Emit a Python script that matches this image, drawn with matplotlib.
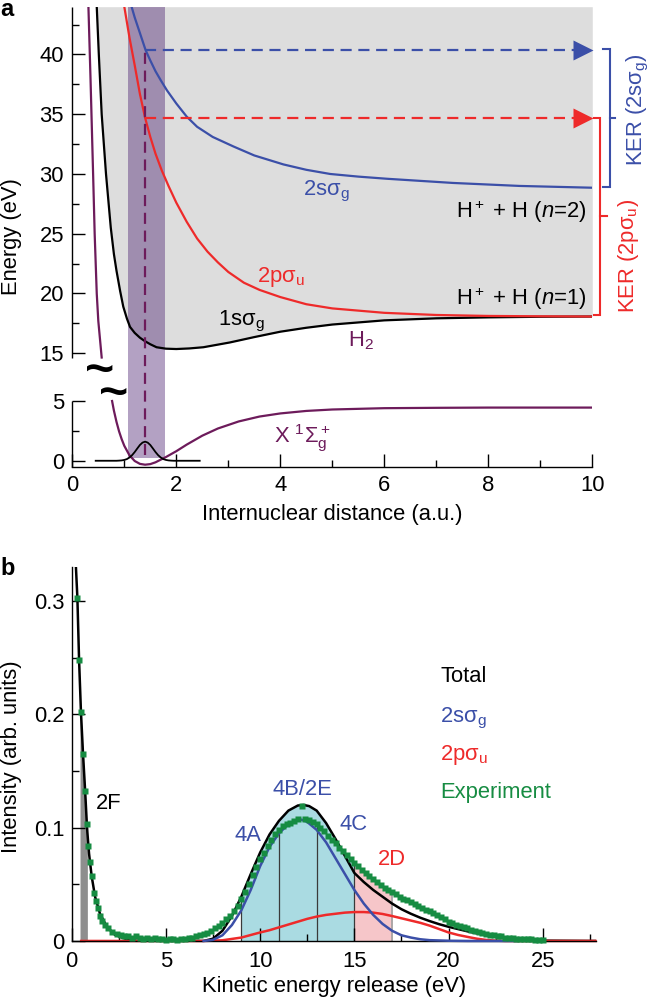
import numpy as np
import matplotlib
matplotlib.use("Agg")
import matplotlib.pyplot as plt

# -------------------------
# Fonts / style
# -------------------------
plt.rcParams["font.family"] = ["Liberation Sans", "DejaVu Sans"]
plt.rcParams["mathtext.fontset"] = "custom"
plt.rcParams["mathtext.rm"] = "Liberation Sans"
plt.rcParams["mathtext.it"] = "Liberation Sans:italic"
plt.rcParams["mathtext.bf"] = "Liberation Sans:bold"
plt.rcParams["font.size"] = 15.8

BLUE = "#3b4fa8"
RED = "#ee2a2a"
PURPLE = "#6d1b5b"
GREEN = "#168c42"

# -------------------------
# Panel a data (energy in eV vs internuclear distance in a.u.)
# -------------------------
# H2 ground state X 1Sigma_g+ (upper piece above the axis break, lower piece below)
h2_up_x = [0.31, 0.35, 0.40, 0.43, 0.47, 0.50, 0.565]
h2_up_y = [44.0, 38.0, 30.0, 25.0, 20.0, 17.7, 14.1]
h2_lo_x = [0.765, 0.8, 0.85, 0.9, 0.95, 1.0, 1.1, 1.2, 1.3, 1.4, 1.5, 1.6, 1.8, 2.0,
           2.2, 2.5, 2.8, 3.2, 3.6, 4.0, 4.5, 5.0, 6.0, 7.0, 8.0, 10.0]
h2_lo_y = [5.0, 4.2, 3.25, 2.45, 1.8, 1.25, 0.45, -0.02, -0.26, -0.33, -0.28, -0.13, 0.31, 0.8,
           1.35, 2.1, 2.7, 3.29, 3.7, 3.96, 4.17, 4.29, 4.4, 4.43, 4.45, 4.45]

# H2+ 1s sigma_g
s1_x = [0.47, 0.51, 0.565, 0.648, 0.74, 0.8, 0.85, 0.92, 0.98, 1.05, 1.11, 1.2, 1.3, 1.4, 1.5,
        1.62, 1.8, 2.0, 2.25, 2.52, 3.03, 3.5, 4.0, 4.5, 5.0, 6.0, 7.0, 8.0, 9.0, 10.0]
s1_y = [44.0, 40.0, 35.0, 30.0, 25.5, 23.3, 21.9, 20.2, 18.9, 17.9, 17.2, 16.7, 16.3, 16.0, 15.75,
        15.5, 15.38, 15.35, 15.4, 15.5, 15.9, 16.35, 16.8, 17.13, 17.4, 17.75, 17.92, 18.0, 18.05, 18.07]

# H2+ 2p sigma_u
p_x = [1.0, 1.1, 1.2, 1.3, 1.4, 1.5, 1.6, 1.72, 1.85, 2.0, 2.2, 2.4, 2.6, 2.8, 3.0, 3.3, 3.6,
       4.0, 4.5, 5.0, 6.0, 7.0, 8.0, 9.0, 10.0]
p_y = [44.0, 41.4, 39.1, 36.7, 34.7, 33.1, 31.7, 30.3, 29.0, 27.6, 26.0, 24.6, 23.5, 22.6, 21.8,
       20.9, 20.3, 19.7, 19.1, 18.75, 18.38, 18.2, 18.12, 18.09, 18.07]

# H2+ 2s sigma_g
s2_x = [1.14, 1.2, 1.3, 1.41, 1.5, 1.6, 1.7, 1.82, 2.0, 2.2, 2.4, 2.7, 3.1, 3.5, 4.06, 4.5,
        4.96, 5.5, 6.05, 7.32, 8.6, 10.0]
s2_y = [44.0, 43.1, 41.8, 40.36, 39.5, 38.6, 37.85, 37.0, 35.9, 34.8, 33.95, 33.1, 32.3, 31.55,
        30.8, 30.35, 30.0, 29.78, 29.6, 29.25, 29.0, 28.85]

# ground vibrational wave function
wf_x = [0.45, 0.85, 0.9, 0.95, 1.0, 1.05, 1.1, 1.15, 1.2, 1.25, 1.3, 1.35, 1.4,
        1.45, 1.5, 1.55, 1.6, 1.65, 1.7, 1.75, 1.8, 1.85, 1.9, 1.95, 2.45]
wf_y = [0.0, 0.0, 0.012, 0.03, 0.07, 0.14, 0.276, 0.47, 0.73, 1.03, 1.32, 1.52, 1.6,
        1.52, 1.32, 1.03, 0.73, 0.47, 0.276, 0.14, 0.07, 0.03, 0.012, 0.0, 0.0]

fc_region = [1.08, 1.78]     # Franck-Condon band
r0 = 1.4                     # equilibrium distance
e_2s = 40.36                 # vertical energies
e_2p = 34.65

# -------------------------
# Panel b data (intensity vs KER)
# -------------------------
tot_x = [0.18, 0.30, 0.39, 0.44, 0.49, 0.60, 0.71, 0.80, 0.83, 0.92, 1.06, 1.24, 1.50, 1.86,
         2.30, 2.92, 3.5, 7.0, 7.5, 8.0, 8.5, 9.0, 9.5, 10.0, 10.5, 11.0, 11.5, 12.0, 12.3, 12.6,
         13.0, 13.5, 14.0, 14.5, 15.0, 15.5, 16.0, 16.5, 17.0, 17.5, 18.0, 18.5, 19.0, 19.5,
         20.0, 21.0, 22.0, 23.0, 24.0, 25.0, 27.8]
tot_y = [0.345, 0.303, 0.248, 0.225, 0.202, 0.165, 0.133, 0.104, 0.096, 0.077, 0.057, 0.039,
         0.024, 0.0126, 0.0053, 0.0015, 0.0, 0.0, 0.002, 0.009, 0.022, 0.039, 0.059, 0.078,
         0.094, 0.106, 0.115, 0.1195, 0.120, 0.119, 0.115, 0.104, 0.090, 0.075, 0.060, 0.052,
         0.045, 0.039, 0.033, 0.028, 0.024, 0.0205, 0.0175, 0.0148, 0.0125, 0.0085, 0.005,
         0.0025, 0.001, 0.0003, 0.0]

sg_x = [7.0, 7.5, 8.0, 8.5, 9.0, 9.5, 10.0, 10.5, 11.0, 11.5, 12.0, 12.2, 12.5, 13.0, 13.5,
        14.0, 14.5, 15.0, 15.5, 16.0, 16.5, 17.0, 17.5, 18.0, 18.5, 19.0, 20.0, 21.0, 23.6]
sg_y = [0.0, 0.001, 0.005, 0.014, 0.027, 0.045, 0.066, 0.083, 0.095, 0.103, 0.1065, 0.107,
        0.105, 0.098, 0.087, 0.073, 0.059, 0.045, 0.033, 0.023, 0.015, 0.009, 0.005, 0.003,
        0.0015, 0.0007, 0.0002, 0.0, 0.0]

pu_x = [0.5, 7.0, 8.0, 9.0, 10.0, 10.5, 11.0, 11.5, 12.0, 12.5, 13.0, 13.5, 14.0, 14.5, 15.0,
        15.5, 16.0, 16.5, 17.0, 17.5, 18.0, 18.5, 19.0, 19.5, 20.0, 20.5, 21.0, 21.5, 22.0,
        22.5, 23.0, 27.8]
pu_y = [0.0, 0.0, 0.0006, 0.003, 0.0075, 0.0095, 0.012, 0.0145, 0.017, 0.0195, 0.0215, 0.023,
        0.024, 0.025, 0.0255, 0.0255, 0.025, 0.0238, 0.022, 0.020, 0.018, 0.016, 0.0135,
        0.0105, 0.0075, 0.0053, 0.0036, 0.002, 0.0009, 0.0003, 0.0, 0.0]

exp_x = [0.30, 0.39, 0.49, 0.60, 0.69, 0.80, 0.88, 0.97, 1.09, 1.20, 1.29, 1.38, 1.50, 1.63,
         1.77, 1.95, 2.12, 2.39,
         2.6, 2.8, 3.0, 3.2, 3.4, 3.6, 3.8, 4.0, 4.2, 4.4,
         4.6, 4.8, 5.0, 5.2, 5.4, 5.6, 5.8, 6.0, 6.2, 6.4,
         6.6, 6.8, 7.0, 7.2, 7.4, 7.6, 7.8, 8.0, 8.2, 8.4,
         8.6, 8.8, 9.0, 9.2, 9.4, 9.6, 9.8, 10.0, 10.2, 10.4,
         10.6, 10.8, 11.0, 11.2, 11.4, 11.6, 11.8, 12.0, 12.2, 12.4,
         12.6, 12.8, 13.0, 13.2, 13.4, 13.6, 13.8, 14.0, 14.2, 14.4,
         14.6, 14.8, 15.0, 15.2, 15.4, 15.6, 15.8, 16.0, 16.2, 16.4,
         16.6, 16.8, 17.0, 17.2, 17.4, 17.6, 17.8, 18.0, 18.2, 18.4,
         18.6, 18.8, 19.0, 19.2, 19.4, 19.6, 19.8, 20.0, 20.2, 20.4,
         20.6, 20.8, 21.0, 21.2, 21.4, 21.6, 21.8, 22.0, 22.2, 22.4,
         22.6, 22.8, 23.0, 23.2, 23.4, 23.6, 23.8, 24.0, 24.2, 24.4,
         24.6, 24.8, 25.0]
exp_y = [0.303, 0.248, 0.202, 0.165, 0.132, 0.103, 0.084, 0.070, 0.057, 0.042, 0.035, 0.029,
         0.022, 0.018, 0.014, 0.011, 0.008, 0.006,
         0.005, 0.004, 0.004, 0.003, 0.004, 0.003, 0.002, 0.003, 0.002, 0.003,
         0.002, 0.002, 0.001, 0.002, 0.002, 0.001, 0.002, 0.002, 0.003, 0.003,
         0.004, 0.005, 0.006, 0.007, 0.009, 0.011, 0.013, 0.016, 0.019, 0.022,
         0.026, 0.031, 0.037, 0.043, 0.050, 0.058, 0.065, 0.072, 0.078, 0.084,
         0.089, 0.094, 0.098, 0.101, 0.103, 0.104, 0.106, 0.108, 0.119, 0.108,
         0.107, 0.105, 0.103, 0.100, 0.097, 0.093, 0.089, 0.086, 0.082, 0.079,
         0.076, 0.072, 0.069, 0.066, 0.063, 0.060, 0.057, 0.055, 0.052, 0.049,
         0.047, 0.045, 0.043, 0.041, 0.039, 0.037, 0.036, 0.034, 0.033, 0.031,
         0.029, 0.027, 0.026, 0.025, 0.023, 0.021, 0.019, 0.017, 0.016, 0.014,
         0.013, 0.012, 0.011, 0.010, 0.009, 0.008, 0.007, 0.006, 0.005, 0.005,
         0.004, 0.004, 0.003, 0.003, 0.003, 0.002, 0.002, 0.002, 0.002, 0.002,
         0.001, 0.001, 0.001]

band_2f = [0.44, 0.83]
band_blue = [9.0, 15.0]
band_pink = [15.0, 17.0]
cut_lines = [9.0, 11.0, 13.0, 15.0]
cut_end = 17.0

# -------------------------
# Figure
# -------------------------
fig = plt.figure(figsize=(6.52, 9.99), dpi=100)
axa = fig.add_axes([0.1109, 0.5328, 0.7975, 0.4605])
axb = fig.add_axes([0.1100, 0.0581, 0.8034, 0.3744])


# broken energy axis: 5..15 eV squeezed out
def fwd(y):
    y = np.asarray(y, dtype=float)
    return np.where(y <= 5, y, np.where(y >= 15, y - 6, 5 + (y - 5) * 0.4))


def inv(z):
    z = np.asarray(z, dtype=float)
    return np.where(z <= 5, z, np.where(z >= 9, z + 6, 5 + (z - 5) / 0.4))


axa.set_yscale("function", functions=(fwd, inv))
axa.set_xlim(0, 10)
axa.set_ylim(-0.5, 44)

axa.fill_between(s1_x, s1_y, 44, color="#dddddd", lw=0, zorder=0.5)
axa.fill_between(fc_region, 0.2, 44, color="#4b2070", alpha=0.42, lw=0, zorder=0.8)

lw = 1.6
axa.plot(h2_up_x, h2_up_y, color=PURPLE, lw=lw)
axa.plot(h2_lo_x, h2_lo_y, color=PURPLE, lw=lw)
axa.plot(s1_x, s1_y, color="k", lw=lw)
axa.plot(p_x, p_y, color=RED, lw=lw)
axa.plot(s2_x, s2_y, color=BLUE, lw=lw)
axa.plot(wf_x, wf_y, color="k", lw=1.3)

dash = (0, (5, 3))
axa.plot([r0, r0], [0.5, e_2s], color=PURPLE, lw=lw, ls=dash)
axa.plot([r0, 9.7], [e_2s, e_2s], color=BLUE, lw=lw, ls=dash)
axa.plot([r0, 9.7], [e_2p, e_2p], color=RED, lw=lw, ls=dash)
axa.plot(9.83, e_2s, marker=">", ms=15, color=BLUE, mec="none", clip_on=False)
axa.plot(9.83, e_2p, marker=">", ms=15, color=RED, mec="none", clip_on=False)

# KER brackets
bk = dict(lw=1.5, clip_on=False, solid_joinstyle="miter")
axa.plot([10.21, 10.34, 10.34, 10.21], [40.5, 40.5, 28.93, 28.93], color=BLUE, **bk)
axa.plot([10.34, 10.44], [34.7, 34.7], color=BLUE, **bk)
axa.plot([10.03, 10.15, 10.15, 10.03], [34.7, 34.7, 18.19, 18.19], color=RED, **bk)
axa.plot([10.15, 10.28], [26.45, 26.45], color=RED, **bk)
axa.text(10.87, 35.4, "KER (2sσ$_\\mathrm{g}$)", color=BLUE, rotation=90,
         ha="center", va="center", clip_on=False)
axa.text(10.7, 23.1, "KER (2pσ$_\\mathrm{u}$)", color=RED, rotation=90,
         ha="center", va="center", clip_on=False)

# curve labels
axa.text(4.44, 28.2, "2sσ$_\\mathrm{g}$", color=BLUE, va="baseline")
axa.text(9.89, 26.3, "$\\mathrm{H}^+$ + H ($n$=2)", color="k", ha="right", va="baseline")
axa.text(9.89, 19.03, "$\\mathrm{H}^+$ + H ($n$=1)", color="k", ha="right", va="baseline")
axa.text(3.55, 20.96, "2pσ$_\\mathrm{u}$", color=RED, va="baseline")
axa.text(2.81, 17.36, "1sσ$_\\mathrm{g}$", color="k", va="baseline")
axa.text(5.3, 15.6, "H$_2$", color=PURPLE, va="baseline")
axa.text(3.87, 1.45, "X $^1$Σ$_\\mathrm{g}^+$", color=PURPLE, va="baseline")

# axis break marks
axa.text(0.053, 0.1787, "~", transform=axa.transAxes, fontsize=36, fontweight="bold",
         ha="center", va="baseline")
axa.text(0.080, 0.1287, "~", transform=axa.transAxes, fontsize=36, fontweight="bold",
         ha="center", va="baseline")

# spines and ticks
for s in ["top", "right", "left"]:
    axa.spines[s].set_visible(False)
axa.spines["bottom"].set_linewidth(1.0)
axa.plot([0, 0], [14.1, 44], color="k", lw=1.0, clip_on=False, solid_capstyle="butt")
axa.plot([0, 0], [-0.5, 5], color="k", lw=1.0, clip_on=False, solid_capstyle="butt")
axa.set_yticks([0, 5, 15, 20, 25, 30, 35, 40], ["0", "5", "15", "20", "25", "30", "35", "40"])
axa.set_yticks([2.5, 17.5, 22.5, 27.5, 32.5, 37.5, 42.5], minor=True)
axa.set_xticks([0, 2, 4, 6, 8, 10], ["0", "2", "4", "6", "8", "10"])
axa.set_xticks([1, 3, 5, 7, 9], minor=True)
axa.tick_params(which="major", direction="in", length=9.7, width=1.0, pad=6.0)
axa.tick_params(which="minor", direction="in", length=5.0, width=1.0)

# -------------------------
# Panel b
# -------------------------
axb.set_xlim(0, 27.8)
axb.set_ylim(0, 0.33)

tx = np.array(tot_x)
ty = np.array(tot_y)
ex = np.array(exp_x)
ey = np.array(exp_y)

m = (tx >= band_2f[0]) & (tx <= band_2f[1])
axb.fill_between(tx[m], 0, ty[m], color="#8e8e8e", lw=0, zorder=1)
for (a0, a1), c in [(band_blue, "#aadbe2"), (band_pink, "#f6c6c9")]:
    m = (ex >= a0) & (ex <= a1)
    axb.fill_between(ex[m], 0, ey[m], color=c, lw=0, zorder=1)
    m = (tx >= a0) & (tx <= a1)
    axb.fill_between(tx[m], 0, ty[m], color=c, lw=0, zorder=1)

cut_h = [ey[np.argmin(np.abs(ex - c))] for c in cut_lines]
axb.vlines(cut_lines, 0, cut_h, color="#3a3a3a", lw=0.9, zorder=1.5)
axb.vlines([cut_end], 0, [ey[np.argmin(np.abs(ex - cut_end))]], color="#a0a0a0", lw=1.2, zorder=1.5)

axb.plot(tx, ty, color="k", lw=1.8, zorder=2)
axb.plot(pu_x, pu_y, color=RED, lw=1.8, zorder=2.5, clip_on=False)
axb.plot(sg_x, sg_y, color=BLUE, lw=1.8, zorder=3, clip_on=False)
axb.plot(ex, ey, ls="none", marker="s", ms=4.6, color=GREEN, mec="none", zorder=4, clip_on=False)

axb.text(1.3, 0.121, "2F", color="k", va="center")
axb.text(9.33, 0.0934, "4A", color=BLUE, ha="center", va="center")
axb.text(12.25, 0.134, "4B/2E", color=BLUE, ha="center", va="center")
axb.text(14.95, 0.103, "4C", color=BLUE, ha="center", va="center")
axb.text(16.99, 0.0722, "2D", color=RED, ha="center", va="center")

axb.text(19.55, 0.2285, "Total", color="k", va="baseline")
axb.text(19.55, 0.193, "2sσ$_\\mathrm{g}$", color=BLUE, va="baseline")
axb.text(19.55, 0.160, "2pσ$_\\mathrm{u}$", color=RED, va="baseline")
axb.text(19.55, 0.1257, "Experiment", color=GREEN, va="baseline")

for s in ["top", "right"]:
    axb.spines[s].set_visible(False)
for s in ["left", "bottom"]:
    axb.spines[s].set_linewidth(1.0)
axb.set_xticks([0, 5, 10, 15, 20, 25], ["0", "5", "10", "15", "20", "25"])
axb.set_xticks([2.5, 7.5, 12.5, 17.5, 22.5, 27.5], minor=True)
axb.set_yticks([0, 0.1, 0.2, 0.3], ["0", "0.1", "0.2", "0.3"])
axb.set_yticks([0.05, 0.15, 0.25], minor=True)
axb.tick_params(which="major", direction="in", length=9.7, width=1.0)
axb.tick_params(axis="x", which="major", pad=7.5)
axb.tick_params(axis="y", which="major", pad=5.0)
axb.tick_params(which="minor", direction="in", length=5.0, width=1.0)

# -------------------------
# Axis labels and panel letters
# -------------------------
fig.text(0.018, 0.763, "Energy (eV)", rotation=90, ha="center", va="center")
fig.text(0.509, 0.4795, "Internuclear distance (a.u.)", ha="center", va="baseline")
fig.text(0.018, 0.2422, "Intensity (arb. units)", rotation=90, ha="center", va="center")
fig.text(0.5123, 0.007, "Kinetic energy release (eV)", ha="center", va="baseline")
fig.text(0.0, 0.984, "a", fontweight="bold", fontsize=17, va="baseline")
fig.text(0.0, 0.4244, "b", fontweight="bold", fontsize=17, va="baseline")

fig.savefig("out.png", dpi=100)
